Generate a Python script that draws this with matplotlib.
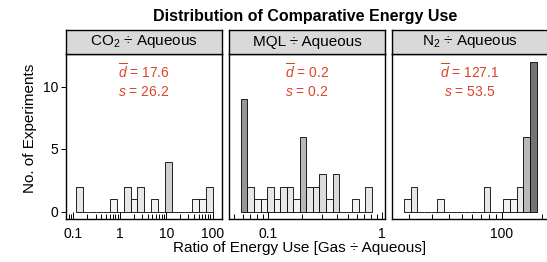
import matplotlib
matplotlib.use("Agg")
import matplotlib.pyplot as plt
import numpy as np
from matplotlib.ticker import LogLocator, FuncFormatter, NullFormatter

plt.rcParams["font.family"] = ["Liberation Sans", "DejaVu Sans"]
plt.rcParams["mathtext.fontset"] = "custom"
plt.rcParams["mathtext.rm"] = "Liberation Sans"
plt.rcParams["mathtext.it"] = "Liberation Sans:italic"

# panel data: 20 log-spaced bins per panel
panels = ["CO$_2$ ÷ Aqueous", "MQL ÷ Aqueous", "N$_2$ ÷ Aqueous"]
co2_counts = [2, 0, 0, 0, 0, 1, 0, 2, 1, 2, 0, 1, 0, 4, 0, 0, 0, 1, 1, 2]
mql_counts = [9, 2, 1, 1, 2, 1, 2, 2, 1, 6, 2, 2, 3, 1, 3, 0, 0, 1, 0, 2]
n2_counts = [1, 2, 0, 0, 0, 1, 0, 0, 0, 0, 0, 0, 2, 0, 0, 1, 1, 2, 6, 12]
bin_range = [(0.1117, 100.9), (0.0579, 0.813), (18.4, 182.0)]
x_limits = [(0.0689, 160.0), (0.0455, 1.06), (14.9, 222.0)]
mean_d = [17.6, 0.2, 127.1]
sd_s = [26.2, 0.2, 53.5]
all_counts = [co2_counts, mql_counts, n2_counts]

W, H = 547, 262
fig = plt.figure(figsize=(W / 100, H / 100), dpi=100)

def fx(px):
    return px / W

def fy(py):
    return 1 - py / H

panel_x = [(66, 222), (229, 385), (392, 548)]
top, bottom = 54, 219
strip_top = 30
red = "#dc4429"

def gray(c):
    g = 0.95 - (c - 1) / 11 * (0.95 - 0.45)
    return (g, g, g)

for i, (x0, x1) in enumerate(panel_x):
    ax = fig.add_axes([fx(x0), fy(bottom), fx(x1 - x0), (bottom - top) / H])
    counts = np.array(all_counts[i])
    lo, hi = bin_range[i]
    edges = np.logspace(np.log10(lo), np.log10(hi), len(counts) + 1)
    ax.bar(edges[:-1], counts, width=np.diff(edges), align="edge",
           color=[gray(c) for c in counts], edgecolor="black", linewidth=0.6)
    ax.set_xscale("log")
    ax.set_xlim(*x_limits[i])
    ax.set_ylim(-0.6, 12.6)
    ax.xaxis.set_major_locator(LogLocator(base=10, numticks=20))
    ax.xaxis.set_minor_locator(LogLocator(base=10, subs=np.arange(2, 10), numticks=20))
    ax.xaxis.set_major_formatter(FuncFormatter(lambda v, p: f"{v:g}"))
    ax.xaxis.set_minor_formatter(NullFormatter())
    ax.tick_params(axis="x", which="major", direction="in", length=5, width=0.7,
                   labelsize=10, pad=6)
    ax.tick_params(axis="x", which="minor", direction="in", length=3.5, width=0.7)
    ax.set_yticks([0, 5, 10])
    if i == 0:
        ax.tick_params(axis="y", direction="out", length=3.5, width=0.7,
                       labelsize=10, pad=2)
    else:
        ax.tick_params(axis="y", left=False, labelleft=False)
    for sp in ax.spines.values():
        sp.set_linewidth(1.0)
    ax.text(0.5, 0.89, r"$\overline{d}$" + f" = {mean_d[i]}", transform=ax.transAxes,
            ha="center", va="center", color=red, fontsize=10)
    ax.text(0.5, 0.77, r"$s$" + f" = {sd_s[i]}", transform=ax.transAxes,
            ha="center", va="center", color=red, fontsize=10)

    sax = fig.add_axes([fx(x0), fy(top), fx(x1 - x0), (top - strip_top) / H])
    sax.set_facecolor("#d9d9d9")
    sax.set_xticks([])
    sax.set_yticks([])
    for sp in sax.spines.values():
        sp.set_linewidth(1.0)
    sax.text(0.5, 0.5, panels[i], ha="center", va="center", fontsize=11,
             transform=sax.transAxes)

fig.text(fx(305), fy(16), "Distribution of Comparative Energy Use",
         ha="center", va="center", fontsize=11.5, fontweight="bold")
fig.text(fx(300), fy(248), "Ratio of Energy Use [Gas ÷ Aqueous]",
         ha="center", va="center", fontsize=11)
fig.text(fx(30), fy(128), "No. of Experiments", ha="center", va="center",
         rotation=90, fontsize=11)

fig.savefig("out.png", dpi=100)
